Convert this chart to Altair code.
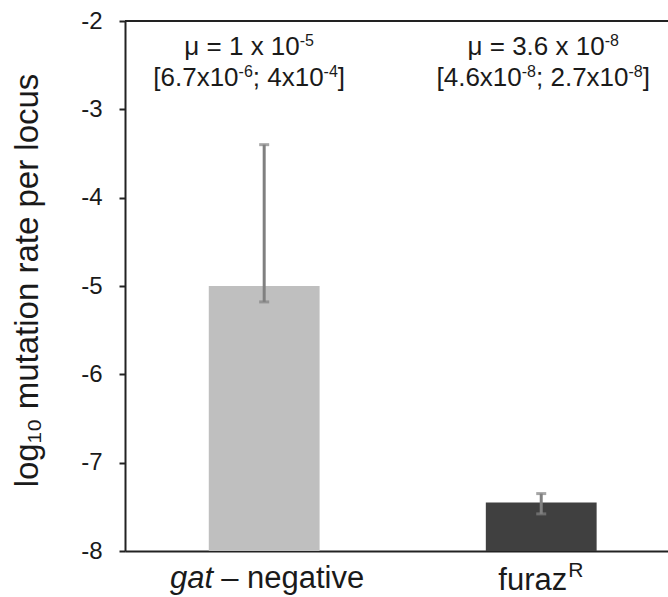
import altair as alt
import pandas as pd

categories = ["gat – negative", "furazR"]
log_rates = [-5.0, -7.45]
err_low = [-5.18, -7.58]
err_high = [-3.40, -7.35]
bar_colors = ["#bfbfbf", "#404040"]
# annotation pieces: (text, is_superscript)
annot_line1 = [
    [("μ = 1 x 10", False), ("-5", True)],
    [("μ = 3.6 x 10", False), ("-8", True)],
]
annot_line2 = [
    [("[6.7x10", False), ("-6", True), ("; 4x10", False), ("-4", True), ("]", False)],
    [("[4.6x10", False), ("-8", True), ("; 2.7x10", False), ("-8", True), ("]", False)],
]
label_main = ["gat", "furaz"]
label_rest = ["– negative", "R"]
y_ticks = [-8, -7, -6, -5, -4, -3, -2]

df = pd.DataFrame({
    "cat": categories,
    "rate": log_rates,
    "lo": err_low,
    "hi": err_high,
    "color": bar_colors,
    "main": label_main,
    "rest": label_rest,
})

FONT = "Liberation Sans"
TXT = "#1a1a1a"
GREY = "#808080"

# Arial / Liberation Sans advance widths (em) for layout of the pieces
ADV = {"μ": 0.576, "=": 0.584, " ": 0.278, "x": 0.5, ".": 0.278, ";": 0.278,
       "[": 0.278, "]": 0.278, "-": 0.333}
def text_width(s, size):
    return sum(ADV.get(ch, 0.556) for ch in s) * size

BASE_SIZE = 26
SUP_SIZE = 16

xenc = alt.X("cat:N", sort=categories,
             scale=alt.Scale(paddingInner=0.6, paddingOuter=0.28, align=0.54),
             axis=alt.Axis(title=None, labels=False, ticks=False, domain=True,
                           domainColor="#222222", domainWidth=2))
yscale = alt.Scale(domain=[-8, -2], nice=False, zero=False)
xcat = alt.X("cat:N", sort=categories)

base = alt.Chart(df)

bars = base.mark_bar().encode(
    x=xenc,
    y=alt.Y("rate:Q", scale=yscale,
            axis=alt.Axis(values=y_ticks, labelExpr="'' + datum.value",
                          title="log₁₀ mutation rate per locus",
                          titleFont=FONT, titleFontSize=33, titleFontWeight="normal",
                          titleColor=TXT, titleAngle=-90, titleX=-88, titleY=259,
                          titleAlign="center", titleBaseline="alphabetic",
                          labelFont=FONT, labelFontSize=24, labelColor=TXT,
                          labelPadding=17, tickSize=6, tickWidth=2,
                          tickColor="#222222", domainColor="#222222",
                          domainWidth=2, grid=False)),
    y2=alt.datum(-8),
    color=alt.Color("color:N", scale=None),
)

err = base.mark_rule(color=GREY, strokeWidth=3).encode(x=xcat, y="lo:Q", y2="hi:Q")
cap_lo = base.mark_tick(color=GREY, size=10, thickness=3).encode(x=xcat, y="lo:Q")
cap_hi = base.mark_tick(color=GREY, size=10, thickness=3).encode(x=xcat, y="hi:Q")

top_line = alt.Chart(pd.DataFrame({"v": [-2]})).mark_rule(
    color="#222222", strokeWidth=2).encode(y="v:Q")

layers = [bars, err, cap_lo, cap_hi, top_line]

def piece_layers(idx, pieces, center_dx, baseline_dy):
    out = []
    widths = [text_width(t, SUP_SIZE if sup else BASE_SIZE) for t, sup in pieces]
    start = center_dx - sum(widths) / 2
    off = start
    for (t, sup), w in zip(pieces, widths):
        out.append(
            alt.Chart(pd.DataFrame({"cat": [categories[idx]], "t": [t]}))
            .mark_text(font=FONT, fontSize=SUP_SIZE if sup else BASE_SIZE,
                       color=TXT, align="left", baseline="alphabetic",
                       dx=off, dy=baseline_dy - (9 if sup else 0))
            .encode(x=xcat, y=alt.datum(-2), text="t:N")
        )
        off += w
    return out

annot_dx = [-15, 2]
for i in range(2):
    layers += piece_layers(i, annot_line1[i], annot_dx[i], 34)
    layers += piece_layers(i, annot_line2[i], annot_dx[i], 65)

def lab(field, idx, dx, dy, align, size, style):
    return base.transform_filter(
        alt.datum.cat == categories[idx]
    ).mark_text(font=FONT, fontSize=size, color=TXT, dx=dx, dy=dy,
                align=align, baseline="alphabetic", fontStyle=style).encode(
        x=xcat, y=alt.datum(-8), text=f"{field}:N")

layers += [
    lab("main", 0, -51, 37, "right", 31, "italic"),
    lab("rest", 0, -43, 37, "left", 31, "normal"),
    lab("main", 1, 26, 39, "right", 31, "normal"),
    lab("rest", 1, 27, 26, "left", 21, "normal"),
]

chart = alt.layer(*layers).properties(
    width=543, height=530,
    autosize=alt.AutoSizeParams(type="none"),
    padding={"left": 125, "top": 21, "right": 0, "bottom": 46},
).configure_view(stroke=None).configure(background="white")

chart.save("out.html", embed_options={"renderer": "svg", "actions": False})
